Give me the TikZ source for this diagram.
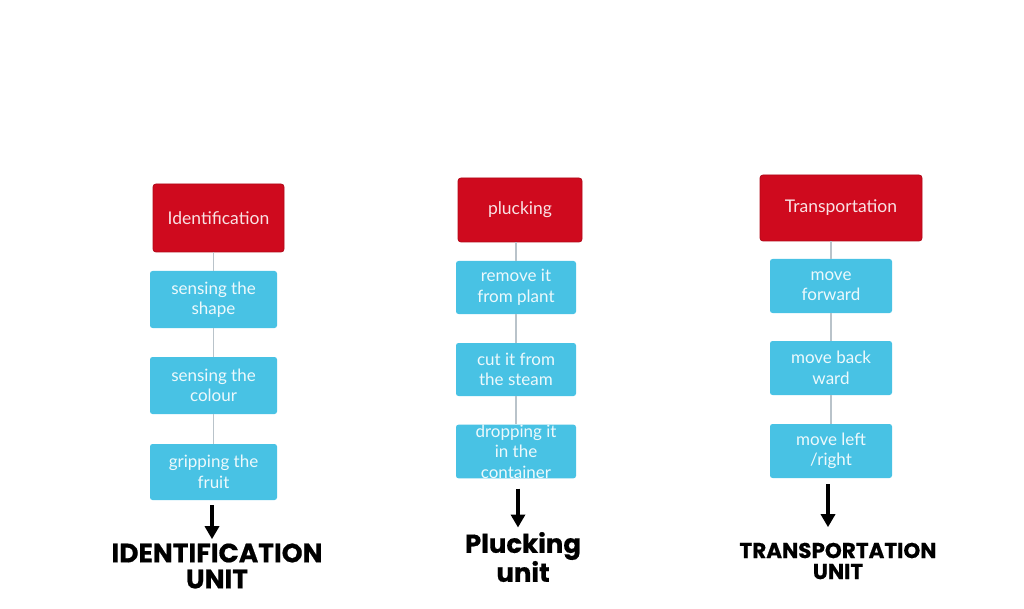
\documentclass[tikz,border=0pt]{standalone}
\usepackage{fontspec}
\setmainfont{Lato}
\newfontfamily\labfont[FakeBold=0.6]{Poppins}
\usetikzlibrary{arrows.meta}
\definecolor{hdred}{HTML}{CF0A1E}
\definecolor{hdredb}{HTML}{B00818}
\definecolor{stepblue}{HTML}{48C2E4}
\definecolor{linkgray}{HTML}{B9C3CA}
\tikzset{
  headbox/.style={draw=hdredb, line width=0.8pt, fill=hdred, rounded corners=3pt,
    text=white!88!hdred, font=\fontsize{17.5}{20}\selectfont, align=center, inner sep=0pt},
  stepbox/.style={fill=stepblue, rounded corners=2.5pt, text=white!90!stepblue,
    font=\fontsize{17}{20.5}\selectfont, align=center, inner sep=0pt},
  link/.style={draw=linkgray, line width=1.8pt},
  bigarrow/.style={line width=4pt, -{Triangle[width=14pt,length=13pt]}},
  unitlab/.style={align=center, inner sep=0pt}
}
\begin{document}
\begin{tikzpicture}[x=1pt,y=-1pt]
\useasboundingbox (0,0) rectangle (1024,609);
% column 1
\node[headbox, minimum width=131pt, minimum height=68pt] (r1) at (218.5,218) {Identification};
\node[stepbox, minimum width=127pt, minimum height=57pt] (a1) at (213.5,299.5) {sensing the\\shape};
\node[stepbox, minimum width=127pt, minimum height=57pt] (a2) at (213.5,385.5) {sensing the\\colour};
\node[stepbox, minimum width=127pt, minimum height=56pt] (a3) at (213.5,472) {gripping the\\fruit};
\draw[link] (a1.north) -- (a1.north |- r1.south);
\draw[link] (a1.south) -- (a2.north);
\draw[link] (a2.south) -- (a3.north);
\node[unitlab, font=\labfont\bfseries\fontsize{26.5}{26}\selectfont] (u1) at (217,566) {IDENTIFICATION\\UNIT};
\draw[bigarrow] ([xshift=-1.5pt,yshift=-5pt]a3.south) -- ++(0,34);
% column 2
\node[headbox, minimum width=124pt, minimum height=64pt] (r2) at (520,210) {plucking};
\node[stepbox, minimum width=120pt, minimum height=53pt] (b1) at (516,287.5) {remove it\\from plant};
\node[stepbox, minimum width=120pt, minimum height=53pt] (b2) at (516,369.5) {cut it from\\the steam};
\node[stepbox, minimum width=120pt, minimum height=53pt] (b3) at (516,451.5) {dropping it\\in the\\container};
\draw[link] (b1.north) -- (b1.north |- r2.south);
\draw[link] (b1.south) -- (b2.north);
\draw[link] (b2.south) -- (b3.north);
\node[unitlab, font=\labfont\bfseries\fontsize{26}{25}\selectfont] (u2) at (523,557) {Plucking\\unit};
\draw[bigarrow] ([xshift=2pt,yshift=-10pt]b3.south) -- ++(0,39);
% column 3
\node[headbox, minimum width=162pt, minimum height=66pt] (r3) at (841,208) {Transportation};
\node[stepbox, minimum width=122pt, minimum height=54pt] (c1) at (831,286) {move\\forward};
\node[stepbox, minimum width=122pt, minimum height=54pt] (c2) at (831,368) {move back\\ward};
\node[stepbox, minimum width=122pt, minimum height=54pt] (c3) at (831,451) {move left\\/right};
\draw[link] (c1.north) -- (c1.north |- r3.south);
\draw[link] (c1.south) -- (c2.north);
\draw[link] (c2.south) -- (c3.north);
\node[unitlab, font=\labfont\bfseries\fontsize{21.5}{21}\selectfont] (u3) at (838,561) {TRANSPORTATION\\UNIT};
\draw[bigarrow] ([xshift=-3pt,yshift=-6pt]c3.south) -- ++(0,43);
\end{tikzpicture}
\end{document}
